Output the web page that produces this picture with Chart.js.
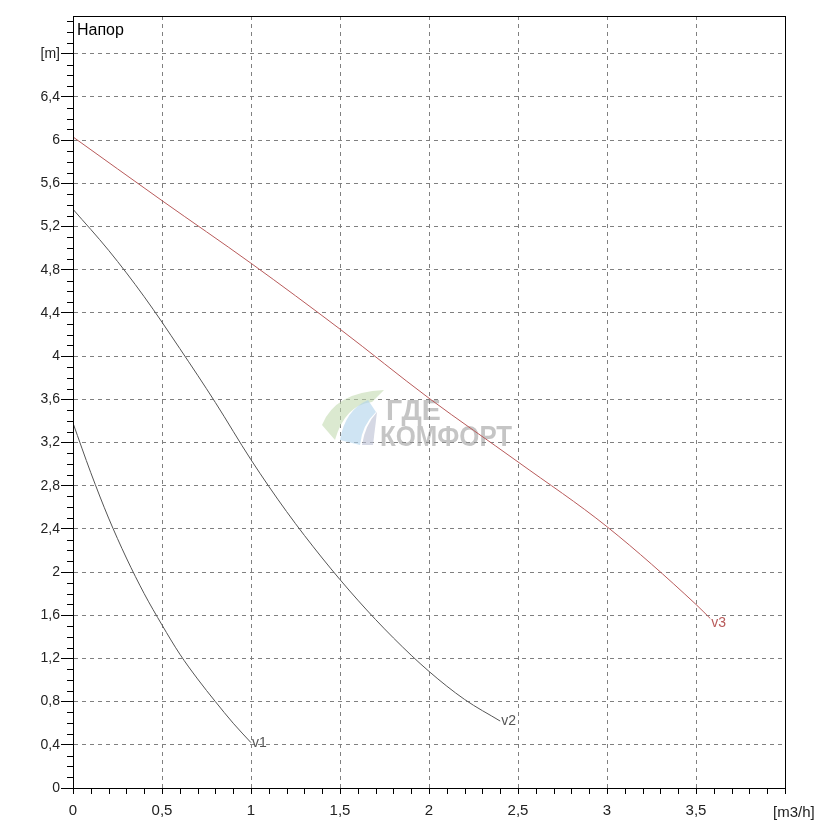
<!DOCTYPE html>
<html>
<head>
<meta charset="utf-8">
<script src="https://cdn.jsdelivr.net/npm/chart.js@4/dist/chart.umd.min.js"></script>
<style>
  html, body { margin: 0; padding: 0; background: #fff; }
  #wrap { width: 840px; height: 840px; position: relative; }
</style>
</head>
<body>
<div id="wrap"><canvas id="chart" width="840" height="840"></canvas></div>
<script>
// ---- Data ----
const v1Flow = [0, 0.1, 0.2, 0.3, 0.4, 0.5, 0.6, 0.7, 0.8, 0.9, 1.0];
const v1Head = [3.38, 2.92, 2.50, 2.13, 1.80, 1.51, 1.24, 1.01, 0.80, 0.60, 0.42];

const v2Flow = [0, 0.2, 0.4, 0.6, 0.8, 1.0, 1.2, 1.4, 1.6, 1.8, 2.0, 2.2, 2.4];
const v2Head = [5.36, 4.98, 4.55, 4.07, 3.57, 3.04, 2.56, 2.13, 1.74, 1.39, 1.08, 0.82, 0.62];

const v3Flow = [0, 0.5, 1.0, 1.5, 2.0, 2.5, 3.0, 3.5, 3.58];
const v3Head = [6.03, 5.44, 4.86, 4.25, 3.61, 3.02, 2.42, 1.70, 1.57];

const seriesNames = ["v1", "v2", "v3"];

const xTicks = [0, 0.5, 1, 1.5, 2, 2.5, 3, 3.5, 4];
const xTickLabels = ["0", "0,5", "1", "1,5", "2", "2,5", "3", "3,5", ""];
const xUnit = "[m3/h]";
const yTicks = [0, 0.4, 0.8, 1.2, 1.6, 2, 2.4, 2.8, 3.2, 3.6, 4, 4.4, 4.8, 5.2, 5.6, 6, 6.4, 6.8];
const yTickLabels = ["0", "0,4", "0,8", "1,2", "1,6", "2", "2,4", "2,8", "3,2", "3,6", "4", "4,4", "4,8", "5,2", "5,6", "6", "6,4", "[m]"];

const yTitle = "Напор";
const watermark = ["ГДЕ", "КОМФОРТ"];

const FONT = "'Liberation Sans', Arial, sans-serif";
const GRAY = "#555555";
const RED = "#b85a5a";

const pts = (xs, ys) => xs.map((x, i) => ({ x, y: ys[i] }));

// faint site watermark behind the curves
function drawWatermark(ctx) {
  ctx.save();
  // logo: pale green leaf + light blue band
  ctx.fillStyle = "rgba(190,215,170,0.55)";
  ctx.beginPath();
  ctx.moveTo(322, 425);
  ctx.quadraticCurveTo(335, 392, 384, 390);
  ctx.lineTo(372, 402);
  ctx.quadraticCurveTo(345, 405, 335, 440);
  ctx.closePath();
  ctx.fill();
  ctx.fillStyle = "rgba(175,210,235,0.6)";
  ctx.beginPath();
  ctx.moveTo(340, 440);
  ctx.quadraticCurveTo(345, 410, 368, 400);
  ctx.lineTo(376, 412);
  ctx.quadraticCurveTo(362, 425, 360, 445);
  ctx.closePath();
  ctx.fill();
  ctx.fillStyle = "rgba(185,190,210,0.6)";
  ctx.beginPath();
  ctx.moveTo(362, 445);
  ctx.quadraticCurveTo(365, 425, 377, 412);
  ctx.lineTo(373, 445);
  ctx.closePath();
  ctx.fill();
  // text
  ctx.fillStyle = "rgba(150,150,150,0.55)";
  ctx.font = "bold 30px " + FONT;
  ctx.textBaseline = "alphabetic";
  ctx.save();
  ctx.translate(386, 420);
  ctx.scale(0.95, 1);
  ctx.fillText(watermark[0], 0, 0);
  ctx.restore();
  ctx.save();
  ctx.translate(380, 446);
  ctx.scale(0.86, 1);
  ctx.fillText(watermark[1], 0, 0);
  ctx.restore();
  ctx.restore();
}

// minor ticks every 0.1 on both axes + frame + end labels + titles
const decorPlugin = {
  id: "decor",
  beforeDatasetsDraw(chart) {
    drawWatermark(chart.ctx);
  },
  afterDraw(chart) {
    const { ctx, chartArea: a, scales } = chart;
    const xs = scales.x, ys = scales.y;
    ctx.save();
    ctx.strokeStyle = "#000";
    ctx.lineWidth = 1;
    // frame
    ctx.strokeRect(Math.round(a.left) + 0.5, Math.round(a.top) + 0.5,
      Math.round(a.right - a.left), Math.round(a.bottom - a.top));
    // minor ticks
    ctx.beginPath();
    for (let i = 1; i < 40; i++) {
      if (i % 5 === 0) continue;
      const px = Math.round(xs.getPixelForValue(i / 10)) + 0.5;
      ctx.moveTo(px, a.bottom);
      ctx.lineTo(px, a.bottom + 6);
    }
    for (let i = 1; i <= 71; i++) {
      if (i % 4 === 0) continue;
      const py = Math.round(ys.getPixelForValue(i / 10)) + 0.5;
      if (py < a.top) continue;
      ctx.moveTo(a.left - 6, py);
      ctx.lineTo(a.left, py);
    }
    ctx.stroke();
    // curve end labels
    ctx.font = "14px " + FONT;
    ctx.textBaseline = "middle";
    chart.data.datasets.forEach((ds, i) => {
      const meta = chart.getDatasetMeta(i);
      const last = meta.data[meta.data.length - 1];
      ctx.fillStyle = ds.borderColor;
      ctx.fillText(seriesNames[i], last.x + 1, last.y + (i === 2 ? 5 : 0));
    });
    // unit of the x axis, right of the last tick
    ctx.fillStyle = "#222";
    ctx.font = "15px " + FONT;
    ctx.textBaseline = "top";
    ctx.fillText(xUnit, xs.getPixelForValue(4) - 12, a.bottom + 17);
    // axis title inside the plot
    ctx.fillStyle = "#000";
    ctx.font = "16px " + FONT;
    ctx.textBaseline = "middle";
    ctx.fillText(yTitle, a.left + 4, a.top + 15);
    ctx.restore();
  }
};

const lineDs = (xs, ys, color) => ({
  data: pts(xs, ys),
  borderColor: color,
  borderWidth: 1,
  pointRadius: 0,
  showLine: true,
  fill: false,
  cubicInterpolationMode: "monotone",
});

new Chart(document.getElementById("chart"), {
  type: "scatter",
  data: {
    datasets: [
      lineDs(v1Flow, v1Head, GRAY),
      lineDs(v2Flow, v2Head, GRAY),
      lineDs(v3Flow, v3Head, RED),
    ],
  },
  options: {
    responsive: false,
    animation: false,
    events: [],
    layout: { padding: { top: 16, right: 55, left: 0, bottom: 0 } },
    plugins: { legend: { display: false }, tooltip: { enabled: false } },
    scales: {
      x: {
        type: "linear",
        min: 0,
        max: 4,
        afterBuildTicks: s => { s.ticks = xTicks.map(v => ({ value: v })); },
        afterFit: s => { s.height = 52; },
        ticks: {
          autoSkip: false,
          maxRotation: 0,
          padding: 8,
          color: "#222",
          font: { family: FONT, size: 15 },
          callback: (v, i) => xTickLabels[i],
        },
        grid: {
          color: c => (c.tick && (c.tick.value === 0 || c.tick.value === 4)) ? "rgba(0,0,0,0)" : "#808080",
          tickColor: "#000",
          tickLength: 6,
          lineWidth: 1,
        },
        border: { display: true, color: "#000", width: 1, dash: [4, 4] },
      },
      y: {
        type: "linear",
        min: 0,
        max: 7.15,
        afterBuildTicks: s => { s.ticks = yTicks.map(v => ({ value: v })); },
        afterFit: s => { s.width = 73; },
        ticks: {
          autoSkip: false,
          padding: 1,
          color: "#222",
          font: { family: FONT, size: 14 },
          callback: (v, i) => yTickLabels[i],
        },
        grid: {
          color: c => (c.tick && c.tick.value === 0) ? "rgba(0,0,0,0)" : "#808080",
          tickColor: "#000",
          tickLength: 12,
          lineWidth: 1,
        },
        border: { display: true, color: "#000", width: 1, dash: [4, 4] },
      },
    },
  },
  plugins: [decorPlugin],
});
</script>
</body>
</html>
